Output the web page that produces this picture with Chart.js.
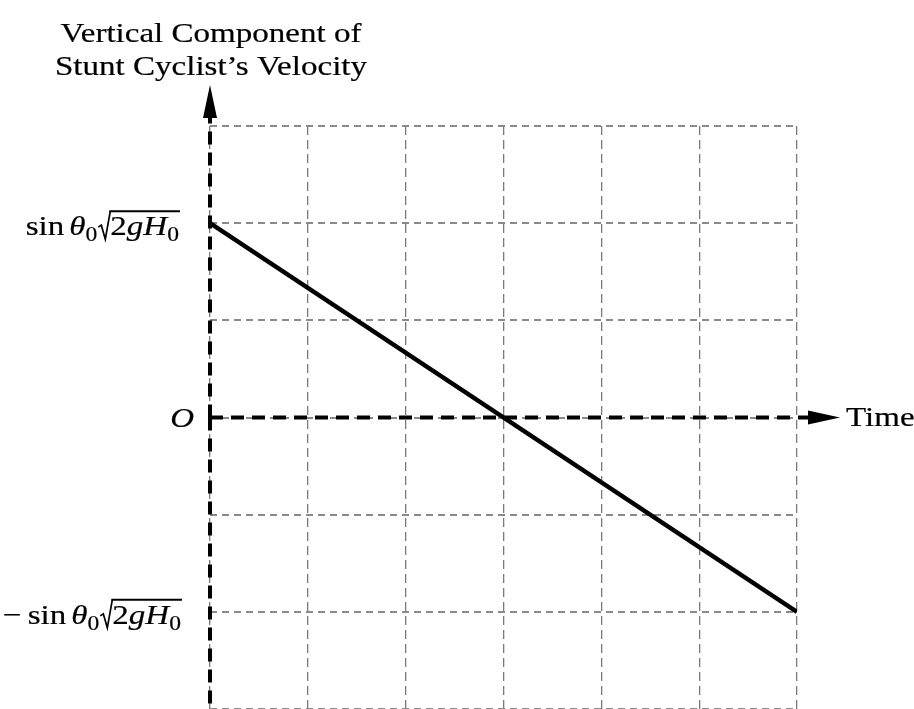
<!DOCTYPE html>
<html>
<head>
<meta charset="utf-8">
<script src="https://cdn.jsdelivr.net/npm/chart.js"></script>
<style>
  html, body { margin: 0; padding: 0; background: #fff; }
  #wrap { width: 914px; height: 709px; }
</style>
</head>
<body>
<div id="wrap"><canvas id="chart"></canvas></div>
<script>
// data (arbitrary units, 1 grid step = 1)
const timeValues = [0, 6];
const velocityValues = [2, -2];
const yTickValues = [2, 0, -2];   // labelled levels: +v0, O, -v0
const titleLines = ['Vertical Component of', 'Stunt Cyclist\u2019s Velocity'];
const xAxisLabel = 'Time';

const SERIF = '"Liberation Serif", "DejaVu Serif", serif';
const FS = 28;
const SX = 1.18;   // the scanned figure is stretched sideways

function stretchedText(ctx, text, x, y, align) {
  ctx.save();
  const w = ctx.measureText(text).width * SX;
  let left = x;
  if (align === 'center') left = x - w / 2;
  else if (align === 'right') left = x - w;
  ctx.translate(left, y);
  ctx.scale(SX, 1);
  ctx.textAlign = 'left';
  ctx.fillText(text, 0, 0);
  ctx.lineWidth = 0.2;
  ctx.strokeStyle = ctx.fillStyle;
  ctx.strokeText(text, 0, 0);
  ctx.restore();
  return w;
}

// sin θ0 √(2gH0), optionally with a leading minus; right aligned at xr
function drawRadicalLabel(ctx, xr, baseline, negative) {
  const parts = [];
  if (negative) { parts.push({ t: '\u2212', it: false }); parts.push({ gap: true, w: 6 }); }
  parts.push({ t: 'sin', it: false });
  parts.push({ gap: true, w: 5 });
  parts.push({ t: '\u03B8', it: true });
  parts.push({ t: '0', it: false, sub: true });
  parts.push({ root: true, w: 13 });
  parts.push({ t: '2', it: false, under: true });
  parts.push({ t: 'gH', it: true, under: true });
  parts.push({ t: '0', it: false, sub: true, under: true });
  const fontFor = p => (p.it ? 'italic ' : '') + (p.sub ? Math.round(FS * 0.7) : FS) + 'px ' + SERIF;
  let total = 0;
  parts.forEach(p => {
    if (p.t !== undefined) { ctx.font = fontFor(p); p.w = ctx.measureText(p.t).width * SX; }
    total += p.w;
  });
  let x = xr - total;
  let underStart = null, underEnd = null;
  ctx.fillStyle = '#000';
  ctx.strokeStyle = '#000';
  ctx.textBaseline = 'alphabetic';
  parts.forEach(p => {
    if (p.root) {
      ctx.lineWidth = 1.7;
      ctx.beginPath();
      ctx.moveTo(x + 1, baseline - 8);
      ctx.lineTo(x + 4, baseline - 10);
      ctx.lineTo(x + 8, baseline + 4);
      ctx.lineTo(x + 13, baseline - 24);
      ctx.stroke();
    } else if (p.t !== undefined) {
      ctx.font = fontFor(p);
      stretchedText(ctx, p.t, x, baseline + (p.sub ? 6 : 0), 'left');
      if (p.under) { if (underStart === null) underStart = x; underEnd = x + p.w; }
    }
    x += p.w;
  });
  ctx.lineWidth = 2;
  ctx.beginPath();
  ctx.moveTo(underStart - 1, baseline - 24);
  ctx.lineTo(underEnd + 1, baseline - 24);
  ctx.stroke();
}

const axesPlugin = {
  id: 'axesPlugin',
  afterDraw(chart) {
    const ctx = chart.ctx;
    const xs = chart.scales.x, ys = chart.scales.y;
    const x0 = xs.getPixelForValue(0);
    const y0 = ys.getPixelForValue(0);
    ctx.save();
    // thick dashed axes
    ctx.strokeStyle = '#000';
    ctx.lineWidth = 4;
    ctx.setLineDash([13, 8]);
    ctx.beginPath();
    ctx.moveTo(x0, y0);
    ctx.lineTo(x0, 112);
    ctx.moveTo(x0, y0);
    ctx.lineTo(x0, chart.height);
    ctx.moveTo(x0, y0);
    ctx.lineTo(812, y0);
    ctx.stroke();
    ctx.setLineDash([]);
    // arrow heads
    ctx.fillStyle = '#000';
    ctx.beginPath();
    ctx.moveTo(x0, 85);
    ctx.lineTo(x0 - 7, 118);
    ctx.lineTo(x0 + 7, 118);
    ctx.closePath();
    ctx.fill();
    ctx.beginPath();
    ctx.moveTo(840, y0);
    ctx.lineTo(808, y0 - 7);
    ctx.lineTo(808, y0 + 7);
    ctx.closePath();
    ctx.fill();

    // title above the vertical axis
    ctx.font = FS + 'px ' + SERIF;
    ctx.textBaseline = 'alphabetic';
    stretchedText(ctx, titleLines[0], 211, 42, 'center');
    stretchedText(ctx, titleLines[1], 211, 75, 'center');

    // time label
    stretchedText(ctx, xAxisLabel, 846, y0 + 8, 'left');

    // y tick labels
    yTickValues.forEach(v => {
      const py = ys.getPixelForValue(v);
      if (v === 0) {
        ctx.font = 'italic ' + FS + 'px ' + SERIF;
        stretchedText(ctx, 'O', 194, py + 9, 'right');
      } else {
        drawRadicalLabel(ctx, v > 0 ? 179 : 181, py + 12, v < 0);
      }
    });
    ctx.restore();
  }
};

new Chart(document.getElementById('chart'), {
  type: 'line',
  data: {
    datasets: [{
      data: timeValues.map((t, i) => ({ x: t, y: velocityValues[i] })),
      borderColor: '#000',
      borderWidth: 4.5,
      pointRadius: 0,
      fill: false,
      tension: 0
    }]
  },
  options: {
    responsive: true,
    maintainAspectRatio: false,
    animation: false,
    layout: { padding: { left: 210, right: 117, top: 126, bottom: 0 } },
    plugins: { legend: { display: false }, tooltip: { enabled: false } },
    scales: {
      x: {
        type: 'linear', min: 0, max: 6,
        ticks: { display: false, stepSize: 1 },
        border: { display: false, dash: [9, 5] },
        grid: { color: '#7a7a7a', lineWidth: 1.3, drawTicks: false }
      },
      y: {
        type: 'linear', min: -3, max: 3,
        ticks: { display: false, stepSize: 1 },
        border: { display: false, dash: [7, 5] },
        grid: { color: '#8a8a8a', lineWidth: 2, drawTicks: false }
      }
    }
  },
  plugins: [axesPlugin]
});
</script>
</body>
</html>
